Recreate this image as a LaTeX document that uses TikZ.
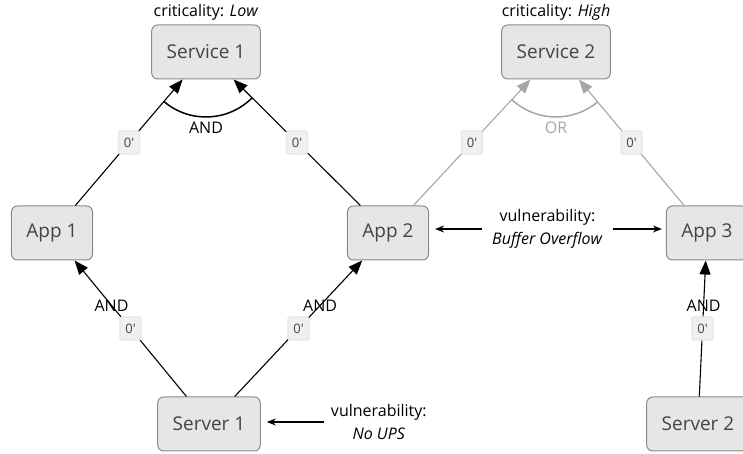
\documentclass[tikz,border=0pt]{standalone}
\usepackage{fontspec}
\setmainfont{Open Sans}
\usepackage{tikz}
\usetikzlibrary{positioning, arrows.meta, calc}
\definecolor{boxfill}{HTML}{E6E6E6}
\definecolor{boxline}{HTML}{8A8A8A}
\definecolor{boxtext}{HTML}{444444}
\definecolor{weakgray}{HTML}{A6A6A6}
\definecolor{delayfill}{HTML}{F0F0F0}
\definecolor{delayline}{HTML}{E6E6E6}

\begin{document}
\begin{tikzpicture}[
  x=1pt, y=1pt,
  asset/.style={
    rectangle, rounded corners=6pt, draw=boxline, fill=boxfill,
    line width=1pt, minimum height=54pt, inner xsep=15pt,
    text=boxtext, font=\fontsize{19}{22}\selectfont
  },
  dep/.style={-{Triangle[length=14pt,width=11pt]}, line width=1.1pt, color=black},
  weak/.style={dep, color=weakgray},
  gate/.style={line width=1.5pt},
  delay/.style={
    rectangle, rounded corners=1.5pt, fill=delayfill, draw=delayline,
    minimum width=21pt, minimum height=23pt, inner sep=2pt,
    font=\fontsize{13}{14}\selectfont, text=boxtext
  },
  label/.style={font=\fontsize{16}{23}\selectfont, align=center},
  vul/.style={-{Stealth[length=9pt,width=7pt]}, line width=1.3pt, shorten >=6pt},
]
\useasboundingbox (0,0) rectangle (743,454);

% Services
\node[asset] (s1) at (206,402) {Service 1};
\node[asset] (s2) at (556,402) {Service 2};
\node[label, above=3pt of s1, inner sep=1pt] (c1) {criticality: \textit{Low}};
\node[label, above=3pt of s2, inner sep=1pt] (c2) {criticality: \textit{High}};

% Apps
\node[asset] (a1) at (52,221) {App 1};
\node[asset] (a2) at (388,221) {App 2};
\node[asset] (a3) at (707,221) {App 3};

% Servers
\node[asset] (sv1) at (209,30) {Server 1};
\node[asset] (sv2) at (698,30) {Server 2};

% Dependencies
\draw[dep] (a1) -- node[delay] {0\textquotesingle} (s1);
\draw[dep] (a2) -- node[delay] {0\textquotesingle} (s1);
\draw[weak] (a2) -- node[delay] {0\textquotesingle} (s2);
\draw[weak] (a3) -- node[delay] {0\textquotesingle} (s2);
\draw[dep] (sv1) -- node[delay] {0\textquotesingle}
  node[label, pos=0.67] {AND} (a1);
\draw[dep] (sv1) -- node[delay] {0\textquotesingle}
  node[label, pos=0.67] {AND} (a2);
\draw[dep] (sv2) -- node[delay] {0\textquotesingle}
  node[label, pos=0.67] {AND} (a3);

% Gates
\draw[gate] let \p1=($(a1)-(s1)$), \p2=($(a2)-(s1)$),
  \n1={atan2(\y1,\x1)}, \n2={atan2(\y2,\x2)} in
  ($(s1)+(\n1:65pt)$) arc[start angle=\n1, end angle=\n2, radius=65pt];
\node[label] (g1) at ($(s1)+(0,-76)$) {AND};
\draw[gate, color=weakgray] let \p1=($(a2)-(s2)$), \p2=($(a3)-(s2)$),
  \n1={atan2(\y1,\x1)}, \n2={atan2(\y2,\x2)} in
  ($(s2)+(\n1:65pt)$) arc[start angle=\n1, end angle=\n2, radius=65pt];
\node[label, text=weakgray] (g2) at ($(s2)+(0,-76)$) {OR};

% Vulnerabilities
\node[label, inner xsep=10pt] (v2) at ($(a2)!0.5!(a3)+(0,4)$)
  {vulnerability:\\\textit{Buffer Overflow}};
\draw[vul] (v2.west) -- (v2.west -| a2.east);
\draw[vul, shorten >=4pt] (v2.east) -- (v2.east -| a3.west);
\node[label, inner xsep=7pt, right=63pt of sv1, yshift=2pt] (v1)
  {vulnerability:\\\textit{No UPS}};
\draw[vul] (v1.west) -- (v1.west -| sv1.east);

\end{tikzpicture}
\end{document}
